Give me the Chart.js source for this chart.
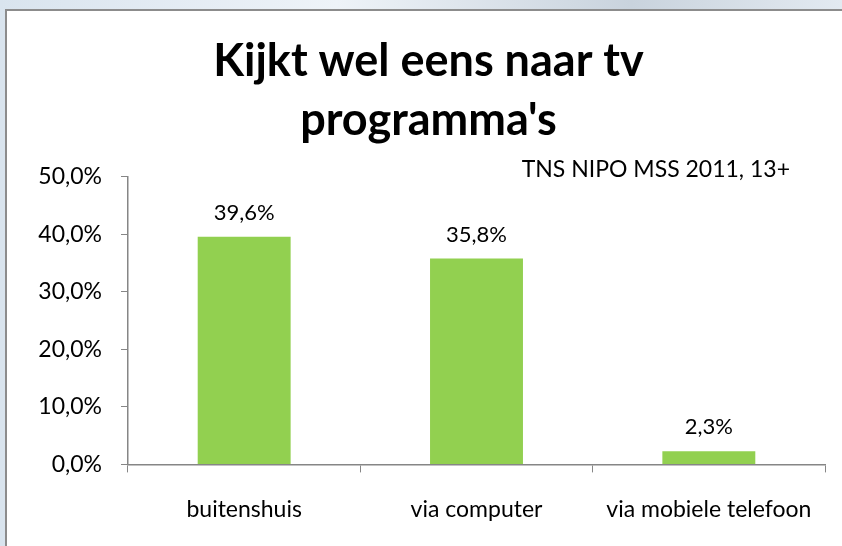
<!DOCTYPE html>
<html>
<head>
<meta charset="utf-8">
<script src="https://cdn.jsdelivr.net/npm/chart.js@4.4.0/dist/chart.umd.min.js"></script>
<style>
  html, body { margin: 0; padding: 0; }
  body {
    width: 842px; height: 546px; overflow: hidden; position: relative;
    background: linear-gradient(90deg, #d9e4ee 0%, #eef3f8 40%, #c9d3dd 75%, #e3eaf1 100%);
  }
  #frame {
    position: absolute; left: 5px; top: 9px; width: 860px; height: 560px;
    background: #fff; border: 2px solid #8c8c8c; box-sizing: border-box;
  }
  #wrap { position: absolute; left: 0; top: 0; width: 842px; height: 546px; }
</style>
</head>
<body>
<div id="frame"></div>
<div id="wrap"><canvas id="chart"></canvas></div>
<script>
const categories = ["buitenshuis", "via computer", "via mobiele telefoon"];
const values = [39.6, 35.8, 2.3];
const titleLines = ["Kijkt wel eens naar tv", "programma's"];
const sourceNote = "TNS NIPO MSS 2011, 13+";

const fontFamily = "Lato, 'Open Sans', sans-serif";
const axisColor = "#868686";

function pct(v) {
  return v.toFixed(1).replace(".", ",") + "%";
}

const valueLabels = {
  id: "valueLabels",
  afterDatasetsDraw(chart) {
    const ctx = chart.ctx;
    const meta = chart.getDatasetMeta(0);
    ctx.save();
    ctx.font = "22px " + fontFamily;
    ctx.fillStyle = "#000";
    ctx.textAlign = "center";
    ctx.textBaseline = "alphabetic";
    meta.data.forEach((bar, i) => {
      ctx.fillText(pct(values[i]), bar.x, bar.y - 17);
    });
    // source note above plot, right side
    ctx.font = "23px " + fontFamily;
    ctx.textAlign = "right";
    ctx.fillText(sourceNote, chart.chartArea.right - 35, chart.chartArea.top);
    ctx.restore();
  }
};

new Chart(document.getElementById("chart"), {
  type: "bar",
  data: {
    labels: categories,
    datasets: [{
      data: values,
      backgroundColor: "#92d050",
      categoryPercentage: 0.4,
      barPercentage: 1.0
    }]
  },
  options: {
    responsive: true,
    maintainAspectRatio: false,
    animation: false,
    layout: { padding: { left: 32, right: 17, top: 0, bottom: 0 } },
    plugins: {
      legend: { display: false },
      tooltip: { enabled: false },
      title: {
        display: true,
        text: titleLines,
        color: "#000",
        font: { family: fontFamily, size: 45, weight: "bold", lineHeight: 1.31 },
        padding: { top: 32, bottom: 27 }
      }
    },
    scales: {
      x: {
        grid: { drawOnChartArea: false, tickLength: 8, color: axisColor, offset: true },
        border: { color: axisColor, width: 1.5 },
        ticks: { color: "#000", padding: 23, font: { family: fontFamily, size: 23 } }
      },
      y: {
        min: 0, max: 50,
        afterFit: scale => { scale.width = 96; },
        grid: { drawOnChartArea: false, tickLength: 7, color: axisColor },
        border: { color: axisColor, width: 1.5 },
        ticks: {
          stepSize: 10, color: "#000", padding: 19,
          font: { family: fontFamily, size: 23 },
          callback: v => pct(v)
        }
      }
    }
  },
  plugins: [valueLabels]
});
</script>
</body>
</html>
